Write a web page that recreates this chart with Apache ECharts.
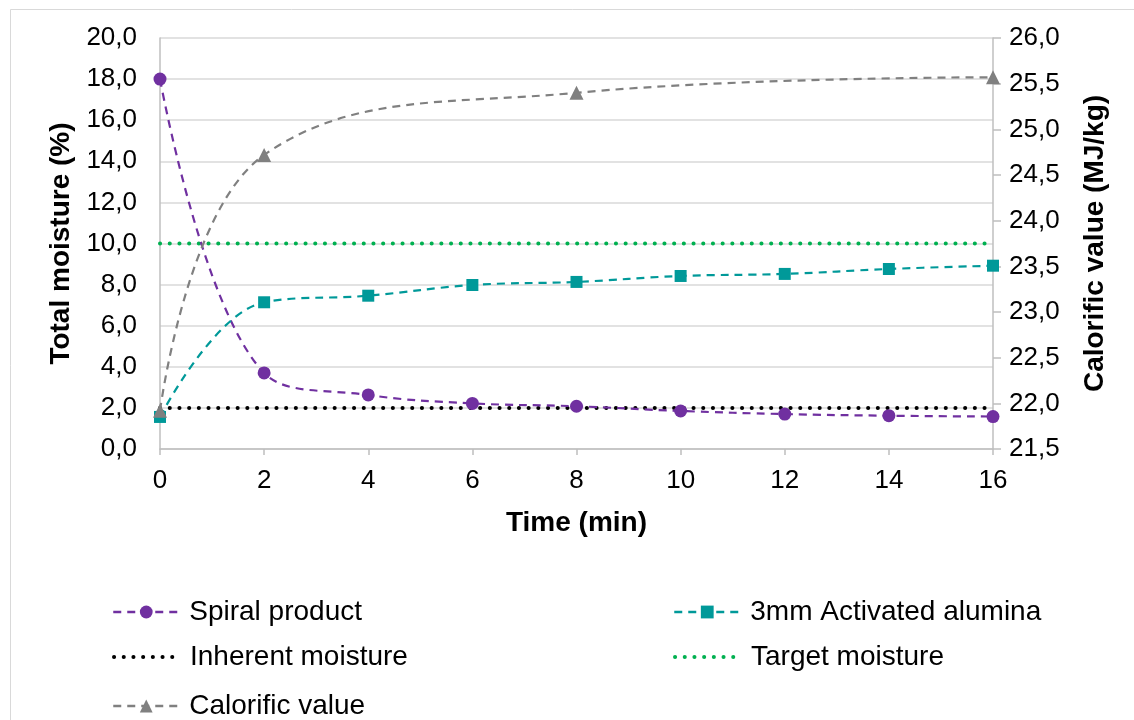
<!DOCTYPE html>
<html><head><meta charset="utf-8">
<script src="https://cdn.jsdelivr.net/npm/echarts@6/dist/echarts.min.js"></script>
<style>html,body{margin:0;padding:0;background:#fff}#c{width:1134px;height:720px}</style>
</head><body><div id="c"></div>
<script>
const timeMin = [0, 2, 4, 6, 8, 10, 12, 14, 16];
const spiralProduct = [18.0, 3.70, 2.63, 2.22, 2.08, 1.85, 1.70, 1.62, 1.58];
const activatedAlumina = [1.56, 7.14, 7.46, 7.98, 8.13, 8.42, 8.52, 8.76, 8.92];
const inherentMoisture = [2.0, 2.0];
const targetMoisture = [10.0, 10.0];
const lineTimes = [0, 16];
const calorificTime = [0, 2, 8, 16];
const calorificValue = [21.92, 24.72, 25.40, 25.57];

const pairs = (xs, ys) => xs.map((x, i) => [x, ys[i]]);
const comma1 = v => v.toFixed(1).replace('.', ',');
const FONT = 'Liberation Sans, Arial, sans-serif';

const chart = echarts.init(document.getElementById('c'), null, {renderer: 'canvas'});
const legendBase = (name, left, top, lw) => ({
  data: [name], left: left, top: top, padding: 0, itemWidth: 66, itemHeight: 16,
  lineStyle: {width: lw},
  textStyle: {fontFamily: FONT, fontSize: 28, color: '#000', padding: [0, 0, 0, 5]},
  selectedMode: false
});
chart.setOption({
  animation: false,
  backgroundColor: '#fff',
  graphic: [{type: 'rect', shape: {x: 10.5, y: 9.5, width: 1200, height: 800},
    style: {fill: 'none', stroke: '#d9d9d9', lineWidth: 1}, z: -1}],
  grid: {left: 160, right: 141, top: 38, bottom: 271},
  legend: [
    legendBase('Spiral product', 112, 598, 2.5),
    legendBase('3mm Activated alumina', 673, 598, 2.5),
    legendBase('Inherent moisture', 112, 643, 4),
    legendBase('Target moisture', 673, 643, 4),
    legendBase('Calorific value', 112, 692, 2.5)
  ],
  xAxis: {
    type: 'value', min: 0, max: 16, interval: 2,
    name: 'Time (min)', nameLocation: 'middle', nameGap: 60,
    nameTextStyle: {fontFamily: FONT, fontSize: 28, fontWeight: 'bold', color: '#000'},
    axisLine: {lineStyle: {color: '#bfbfbf', width: 1.5}},
    axisTick: {show: true, length: 6, lineStyle: {color: '#bfbfbf', width: 1.5}},
    axisLabel: {fontFamily: FONT, fontSize: 26, color: '#000', margin: 19},
    splitLine: {show: false}
  },
  yAxis: [{
    type: 'value', min: 0, max: 20, interval: 2,
    name: 'Total moisture (%)', nameLocation: 'middle', nameGap: 80,
    nameTextStyle: {fontFamily: FONT, fontSize: 28, fontWeight: 'bold', color: '#000'},
    axisLine: {show: true, lineStyle: {color: '#bfbfbf', width: 1.5}},
    axisTick: {show: false},
    axisLabel: {fontFamily: FONT, fontSize: 26, color: '#000', margin: 23, formatter: comma1},
    splitLine: {show: true, lineStyle: {color: '#d9d9d9', width: 1.5}}
  }, {
    type: 'value', min: 21.5, max: 26.0, interval: 0.5, position: 'right',
    name: 'Calorific value (MJ/kg)', nameLocation: 'middle', nameGap: 88,
    nameRotate: 90,
    nameTextStyle: {fontFamily: FONT, fontSize: 28, fontWeight: 'bold', color: '#000'},
    axisLine: {show: true, lineStyle: {color: '#bfbfbf', width: 1.5}},
    axisTick: {show: true, inside: false, length: 8, lineStyle: {color: '#bfbfbf', width: 1.5}},
    axisLabel: {fontFamily: FONT, fontSize: 26, color: '#000', margin: 16, formatter: comma1},
    splitLine: {show: false}
  }],
  series: [{
    name: 'Spiral product', type: 'line', yAxisIndex: 0, smooth: 0.4,
    data: pairs(timeMin, spiralProduct),
    symbol: 'circle', symbolSize: 13,
    itemStyle: {color: '#7030a0'},
    lineStyle: {color: '#7030a0', width: 2.2, type: [8, 6]}, z: 3
  }, {
    name: '3mm Activated alumina', type: 'line', yAxisIndex: 0, smooth: 0.4,
    data: pairs(timeMin, activatedAlumina),
    symbol: 'rect', symbolSize: 12,
    itemStyle: {color: '#009999'},
    lineStyle: {color: '#009999', width: 2.2, type: [8, 6]}, z: 3
  }, {
    name: 'Inherent moisture', type: 'line', yAxisIndex: 0,
    data: pairs(lineTimes, inherentMoisture), symbol: 'none',
    itemStyle: {color: 'rgba(0,0,0,0)', borderColor: 'rgba(0,0,0,0)'},
    lineStyle: {color: '#000', width: 4, type: [0.1, 9.6], cap: 'round'}, z: 2
  }, {
    name: 'Target moisture', type: 'line', yAxisIndex: 0,
    data: pairs(lineTimes, targetMoisture), symbol: 'none',
    itemStyle: {color: 'rgba(0,0,0,0)', borderColor: 'rgba(0,0,0,0)'},
    lineStyle: {color: '#00b050', width: 4, type: [0.1, 9.6], cap: 'round'}, z: 2
  }, {
    name: 'Calorific value', type: 'line', yAxisIndex: 1, smooth: 0.4,
    data: pairs(calorificTime, calorificValue),
    symbol: 'triangle', symbolSize: 14,
    itemStyle: {color: '#808080'},
    lineStyle: {color: '#808080', width: 2.2, type: [8, 6]}, z: 4
  }]
});
</script></body></html>
